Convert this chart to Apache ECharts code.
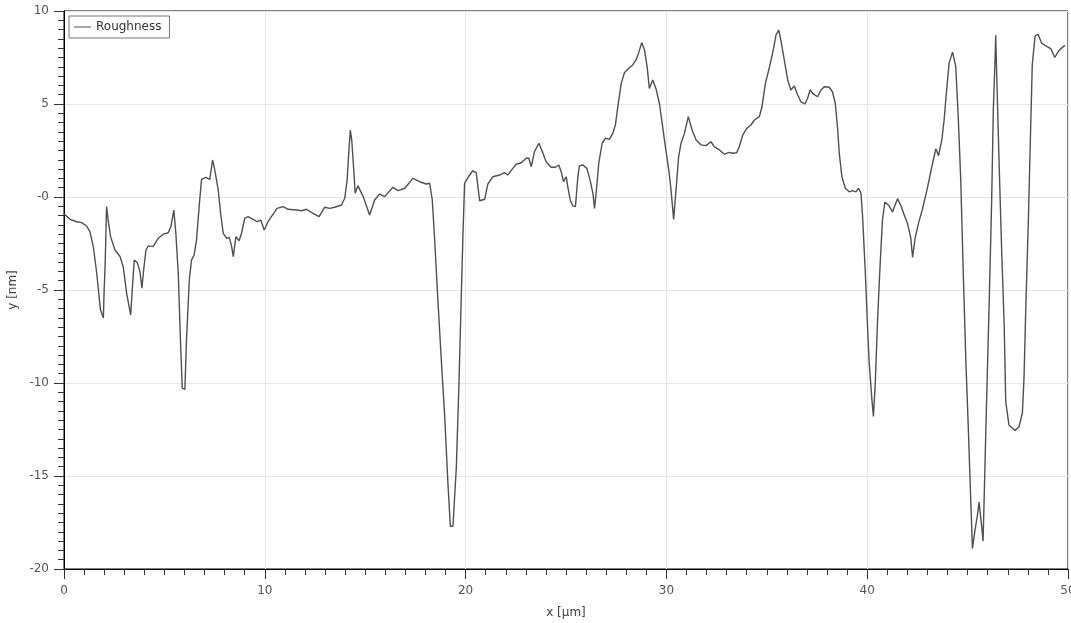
<!DOCTYPE html>
<html>
<head>
<meta charset="utf-8">
<script src="https://cdn.jsdelivr.net/npm/echarts@6/dist/echarts.min.js"></script>
<style>
html,body{margin:0;padding:0;background:#fff;}
#chart{width:1071px;height:623px;}
</style>
</head>
<body>
<div id="chart"></div>
<script>
const seriesName = 'Roughness';
const xAxisTitle = 'x [μm]';
const yAxisTitle = 'y [nm]';
const yTickLabels = {'-20':'-20','-15':'-15','-10':'-10','-5':'-5','0':'-0','5':'5','10':'10'};
const xTickLabels = {'0':'0','10':'10','20':'20','30':'30','40':'40','50':'50'};

const xs = [0.0,0.3,0.63,0.88,1.13,1.29,1.46,1.63,1.76,1.82,1.96,2.0,2.05,2.12,2.2,2.32,2.54,2.79,2.95,3.12,3.32,3.42,3.5,3.65,3.78,3.88,3.95,4.08,4.2,4.44,4.69,4.94,5.19,5.32,5.47,5.57,5.69,5.8,5.89,6.02,6.1,6.24,6.35,6.48,6.6,6.73,6.85,7.06,7.26,7.4,7.51,7.68,7.8,7.93,8.1,8.23,8.35,8.43,8.56,8.72,8.84,9.0,9.17,9.42,9.62,9.8,9.97,10.16,10.38,10.61,10.91,11.16,11.58,11.83,12.07,12.4,12.7,12.99,13.23,13.48,13.82,13.98,14.1,14.2,14.26,14.33,14.43,14.5,14.64,14.9,15.22,15.47,15.72,15.97,16.38,16.63,16.97,17.38,17.71,18.04,18.21,18.34,18.46,18.62,18.79,18.96,19.12,19.24,19.37,19.54,19.67,19.78,19.87,19.95,20.17,20.36,20.53,20.7,20.95,21.11,21.36,21.69,21.94,22.1,22.35,22.52,22.77,23.02,23.15,23.27,23.43,23.65,23.82,24.01,24.26,24.48,24.64,24.76,24.88,25.01,25.09,25.21,25.34,25.47,25.59,25.67,25.84,26.04,26.2,26.34,26.42,26.5,26.63,26.8,26.97,27.16,27.33,27.46,27.58,27.75,27.91,28.12,28.32,28.49,28.62,28.77,28.91,29.04,29.15,29.32,29.49,29.65,29.79,29.95,30.12,30.23,30.36,30.48,30.61,30.73,30.9,31.09,31.28,31.48,31.73,31.97,32.22,32.39,32.64,32.89,33.13,33.3,33.5,33.63,33.8,34.0,34.21,34.38,34.63,34.76,34.93,35.12,35.32,35.46,35.59,35.7,35.87,36.04,36.2,36.37,36.54,36.7,36.9,37.03,37.16,37.31,37.53,37.7,37.86,38.11,38.27,38.41,38.52,38.61,38.74,38.91,39.1,39.27,39.44,39.57,39.69,39.77,39.9,40.01,40.1,40.23,40.31,40.4,40.51,40.63,40.76,40.88,41.09,41.26,41.51,41.68,41.84,42.01,42.17,42.26,42.39,42.55,42.75,43.0,43.22,43.42,43.55,43.72,43.83,43.95,44.08,44.25,44.41,44.54,44.66,44.78,44.91,45.04,45.16,45.24,45.37,45.49,45.57,45.62,45.7,45.77,45.83,45.93,46.07,46.2,46.28,46.37,46.4,46.45,46.57,46.7,46.82,46.9,47.06,47.36,47.56,47.73,47.81,47.9,48.03,48.14,48.22,48.36,48.51,48.69,48.89,49.14,49.34,49.55,49.75,49.85];
const ys = [-0.9,-1.2,-1.33,-1.38,-1.56,-1.86,-2.67,-4.1,-5.5,-6.07,-6.5,-5.0,-3.57,-0.52,-1.24,-2.13,-2.85,-3.2,-3.75,-5.18,-6.34,-4.64,-3.39,-3.53,-4.0,-4.9,-4.1,-2.85,-2.63,-2.67,-2.22,-2.0,-1.92,-1.6,-0.7,-1.95,-4.1,-7.7,-10.28,-10.34,-7.7,-4.46,-3.39,-3.12,-2.31,-0.52,0.95,1.06,0.95,1.99,1.45,0.38,-0.88,-1.95,-2.22,-2.17,-2.67,-3.21,-2.13,-2.35,-1.95,-1.15,-1.06,-1.2,-1.33,-1.24,-1.77,-1.33,-0.97,-0.61,-0.52,-0.66,-0.7,-0.74,-0.66,-0.88,-1.06,-0.55,-0.61,-0.55,-0.43,-0.07,0.91,2.7,3.6,3.06,1.45,0.2,0.6,0.02,-0.97,-0.16,0.16,0.02,0.52,0.34,0.47,1.0,0.82,0.7,0.74,-0.16,-2.31,-5.54,-8.76,-11.81,-15.4,-17.7,-17.7,-14.5,-10.0,-5.54,-1.95,0.74,1.13,1.41,1.31,-0.2,-0.12,0.7,1.09,1.18,1.31,1.18,1.54,1.76,1.84,2.08,2.08,1.63,2.44,2.89,2.44,1.9,1.6,1.6,1.72,1.36,0.82,1.09,0.55,-0.16,-0.48,-0.52,1.09,1.67,1.72,1.54,0.91,0.2,-0.61,0.2,1.81,2.89,3.16,3.1,3.42,3.87,4.85,6.11,6.68,6.92,7.1,7.37,7.76,8.3,7.9,7.0,5.84,6.29,5.79,5.04,3.96,2.7,1.45,0.38,-1.2,0.38,2.17,2.9,3.42,4.32,3.6,3.06,2.8,2.76,2.97,2.7,2.53,2.3,2.4,2.35,2.38,2.7,3.33,3.69,3.87,4.14,4.32,4.85,6.11,6.92,7.9,8.71,8.98,8.44,7.37,6.29,5.75,5.97,5.48,5.12,5.0,5.31,5.75,5.54,5.39,5.75,5.93,5.9,5.66,5.04,3.78,2.35,1.09,0.47,0.28,0.34,0.28,0.47,0.2,-1.04,-3.92,-6.8,-8.92,-10.84,-11.8,-10.07,-6.8,-3.92,-1.24,-0.27,-0.47,-0.81,-0.09,-0.47,-0.95,-1.43,-2.2,-3.25,-2.2,-1.43,-0.66,0.49,1.64,2.6,2.22,3.09,4.14,5.68,7.21,7.79,7.02,4.14,0.88,-3.92,-8.73,-12.56,-16.4,-18.9,-17.9,-17.1,-16.4,-16.9,-17.7,-18.5,-16.0,-11.6,-5.9,-0.14,4.65,7.5,8.7,6.56,1.78,-3.0,-6.8,-11.0,-12.26,-12.55,-12.35,-11.6,-9.7,-5.9,-1.1,3.7,7.1,8.66,8.75,8.27,8.12,7.98,7.5,7.88,8.07,8.15];

const data = xs.map((x, i) => [x, ys[i]]);
const font = 'DejaVu Sans';
const chart = echarts.init(document.getElementById('chart'), null, {renderer: 'canvas'});
chart.setOption({
  animation: false,
  backgroundColor: '#ffffff',
  grid: {left: 64, right: 3, top: 11, bottom: 54, show: true, borderColor: '#000', borderWidth: 1,
    containLabel: false, outerBoundsMode: 'none'},
  legend: {
    show: true, left: 69, top: 16, orient: 'vertical',
    padding: [5, 8, 5, 5], itemGap: 0,
    borderColor: '#777', borderWidth: 1,
    itemWidth: 17, itemHeight: 10,
    textStyle: {fontFamily: font, fontSize: 12, color: '#333'},
    data: [{name: seriesName, icon: 'path://M0,5 L17,5 L17,6 L0,6 Z'}]
  },
  xAxis: {
    type: 'value', min: 0, max: 50, interval: 10,
    name: xAxisTitle, nameLocation: 'middle', nameGap: 38,
    nameTextStyle: {fontFamily: font, fontSize: 12, color: '#444'},
    axisLine: {show: true, onZero: false, lineStyle: {color: '#000', width: 1}},
    axisTick: {show: true, inside: false, length: 10, lineStyle: {color: '#333'}},
    minorTick: {show: true, splitNumber: 10, length: 6, lineStyle: {color: '#333'}},
    axisLabel: {margin: 16, fontFamily: font, fontSize: 12, color: '#555',
      formatter: v => xTickLabels[String(v)] !== undefined ? xTickLabels[String(v)] : ''},
    splitLine: {show: true, lineStyle: {color: '#e6e6e6', width: 1}}
  },
  yAxis: {
    type: 'value', min: -20, max: 10, interval: 5,
    name: yAxisTitle, nameLocation: 'middle', nameGap: 45, nameRotate: 90,
    nameTextStyle: {fontFamily: font, fontSize: 12, color: '#444'},
    axisLine: {show: true, onZero: false, lineStyle: {color: '#000', width: 1}},
    axisTick: {show: true, inside: false, length: 10, lineStyle: {color: '#333'}},
    minorTick: {show: true, splitNumber: 10, length: 6, lineStyle: {color: '#333'}},
    axisLabel: {margin: 15, fontFamily: font, fontSize: 12, color: '#555',
      formatter: v => yTickLabels[String(v)] !== undefined ? yTickLabels[String(v)] : ''},
    splitLine: {show: true, lineStyle: {color: '#e6e6e6', width: 1}}
  },
  series: [{
    name: seriesName, type: 'line', data: data,
    symbol: 'none', showSymbol: false,
    lineStyle: {color: '#505050', width: 1.4},
    itemStyle: {color: '#505050'}
  }]
});
</script>
</body>
</html>
